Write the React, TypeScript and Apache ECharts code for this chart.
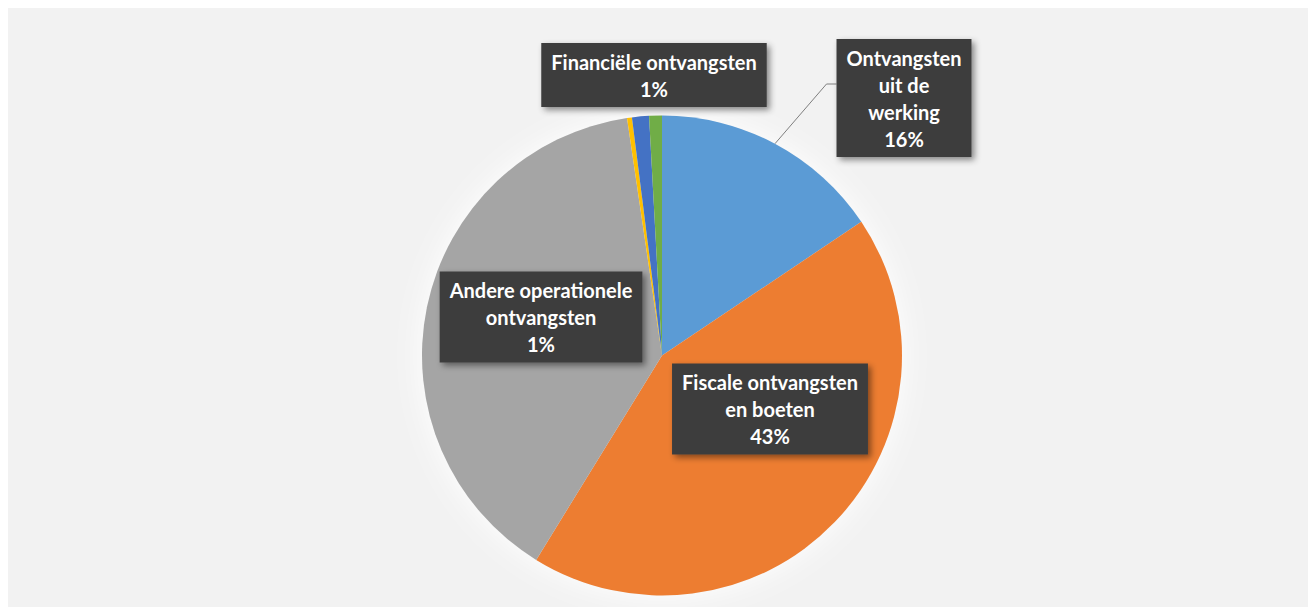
import React, { useEffect, useRef } from "react";
import * as echarts from "echarts";

const categories = [
  "Ontvangsten uit de werking",
  "Fiscale ontvangsten en boeten",
  "Overdrachten",
  "Desinvesteringen",
  "Andere operationele ontvangsten",
  "Financiële ontvangsten",
];
const values = [15.6, 43.2, 38.9, 0.33, 1.14, 0.86];
const colors = ["#5B9BD5", "#ED7D31", "#A5A5A5", "#FFC000", "#4472C4", "#70AD47"];
const labelText = [
  "Ontvangsten\nuit de\nwerking",
  "Fiscale ontvangsten\nen boeten",
  "",
  "",
  "Andere operationele\nontvangsten",
  "Financiële ontvangsten",
];
const showLabel = [true, true, false, false, true, true];
const showLeader = [true, false, false, false, false, false];

const CX = 654;
const CY = 347.5;
const R = 240;

// label box centres (chart container coordinates)
const labelPos: (number[] | null)[] = [
  [896, 90],
  [762, 401],
  null,
  null,
  [533, 309],
  [646, 67],
];

export default function App() {
  const ref = useRef<HTMLDivElement>(null);
  useEffect(() => {
    if (!ref.current) return;
    const chart = echarts.init(ref.current, undefined, { renderer: "svg" });
    const total = values.reduce((a, b) => a + b, 0);
    chart.setOption({
      animation: false,
      backgroundColor: "#f2f2f2",
      series: [
        {
          type: "pie",
          silent: true,
          center: [CX, CY],
          radius: R,
          z: 1,
          label: { show: false },
          labelLine: { show: false },
          itemStyle: { color: "#f2f2f2", shadowBlur: 30, shadowColor: "rgba(255,255,255,1)" },
          data: [{ name: "", value: 1 }],
        },
        {
          type: "pie",
          z: 2,
          center: [CX, CY],
          radius: R,
          startAngle: 90,
          clockwise: true,
          avoidLabelOverlap: false,
          emphasis: { disabled: true },
          data: categories.map((name, i) => ({
            name,
            value: values[i],
            itemStyle: { color: colors[i] },
            label: { show: showLabel[i] },
            labelLine: { show: showLeader[i] },
          })),
          label: {
            position: "outside",
            formatter: (p: any) => labelText[p.dataIndex] + "\n" + Math.round(p.percent) + "%",
            color: "#ffffff",
            fontFamily: "Lato, 'Open Sans', sans-serif",
            fontWeight: "bold",
            fontSize: 20,
            lineHeight: 27,
            align: "center",
            backgroundColor: "#3e3e3e",
            padding: [5, 10, 5, 10],
            shadowColor: "rgba(0,0,0,0.45)",
            shadowBlur: 6,
            shadowOffsetX: 3,
            shadowOffsetY: 3,
          },
          labelLine: {
            length: 20,
            length2: 10,
            lineStyle: { color: "#7f7f7f", width: 1 },
          },
          labelLayout: (params: any) => {
            const i = params.dataIndex;
            const p = labelPos[i];
            if (!p) return {};
            const out: any = { x: p[0], y: p[1], align: "center", verticalAlign: "middle" };
            if (showLeader[i]) {
              let before = 0;
              for (let k = 0; k < i; k++) before += values[k];
              const theta = ((before + values[i] / 2) / total) * Math.PI * 2;
              const sx = CX + R * Math.sin(theta);
              const sy = CY - R * Math.cos(theta);
              const left = p[0] - params.labelRect.width / 2;
              const ey = p[1] - 14;
              out.labelLinePoints = [
                [sx, sy],
                [left - 10, ey],
                [left, ey],
              ];
            }
            return out;
          },
        },
      ],
    });
    return () => chart.dispose();
  }, []);
  return <div ref={ref} style={{ width: 1308, height: 599 }} />;
}
